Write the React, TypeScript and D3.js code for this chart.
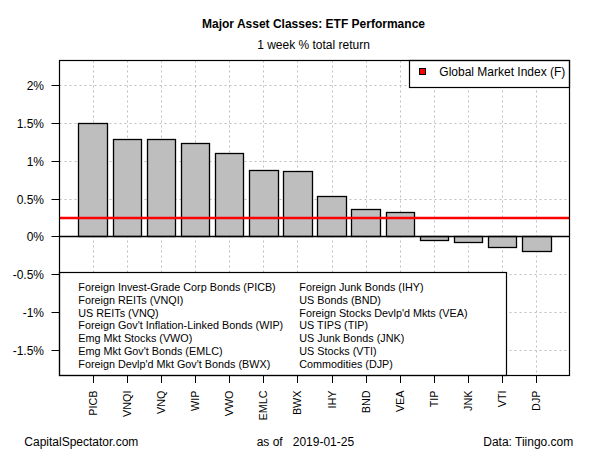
import React from "react";
import * as d3 from "d3";

const tickers = ["PICB", "VNQI", "VNQ", "WIP", "VWO", "EMLC", "BWX", "IHY", "BND", "VEA", "TIP", "JNK", "VTI", "DJP"];
const returns = [1.5, 1.29, 1.29, 1.24, 1.107, 0.882, 0.869, 0.538, 0.366, 0.33, -0.053, -0.07, -0.136, -0.19];
const gmiValue = 0.244;
const yTicks = [-1.5, -1, -0.5, 0, 0.5, 1, 1.5, 2];
const yTickLabels = ["-1.5%", "-1%", "-0.5%", "0%", "0.5%", "1%", "1.5%", "2%"];
const legendCol1 = [
  "Foreign Invest-Grade Corp Bonds (PICB)",
  "Foreign REITs (VNQI)",
  "US REITs (VNQ)",
  "Foreign Gov't Inflation-Linked Bonds (WIP)",
  "Emg Mkt Stocks (VWO)",
  "Emg Mkt Gov't Bonds (EMLC)",
  "Foreign Devlp'd Mkt Gov't Bonds (BWX)",
];
const legendCol2 = [
  "Foreign Junk Bonds (IHY)",
  "US Bonds (BND)",
  "Foreign Stocks Devlp'd Mkts (VEA)",
  "US TIPS (TIP)",
  "US Junk Bonds (JNK)",
  "US Stocks (VTI)",
  "Commodities (DJP)",
];

const FONT = "'Liberation Sans', Arial, sans-serif";

export default function App() {
  const L = 59.5, R = 569.5, T = 60.5, B = 375.5;
  const n = tickers.length;
  const x = d3.scaleLinear().domain([-0.464, 0.2 + n * 1.2 + 0.464]).range([L, R]);
  const y = d3.scaleLinear().domain([-1.839, 2.328]).range([B, T]);
  const centers = tickers.map((_, i) => x(0.2 + i * 1.2 + 0.5));
  const grid = "#bebebe";

  return (
    <svg width={600} height={450} style={{ position: "absolute", left: 0, top: 0, background: "#fff" }} fontFamily={FONT}>
      <rect x={0} y={0} width={600} height={450} fill="#fff" />
      {/* title */}
      <text x={313.5} y={27.5} textAnchor="middle" fontSize={12} fontWeight="bold">Major Asset Classes: ETF Performance</text>
      <text x={313.5} y={48.5} textAnchor="middle" fontSize={12}>1 week % total return</text>

      {/* grid */}
      {centers.map((c, i) => (
        <line key={"vg" + i} x1={Math.round(c) + 0.5} x2={Math.round(c) + 0.5} y1={T} y2={B} stroke={grid} strokeDasharray="2,3" />
      ))}
      {yTicks.map((t, i) => (
        <line key={"hg" + i} x1={L} x2={R} y1={Math.round(y(t)) + 0.5} y2={Math.round(y(t)) + 0.5} stroke={grid} strokeDasharray="2,3" />
      ))}

      {/* bars */}
      {returns.map((v, i) => {
        const x0 = Math.round(x(0.2 + i * 1.2)) + 0.5;
        const x1 = Math.round(x(0.2 + i * 1.2 + 1)) + 0.5;
        const y0 = Math.round(y(Math.max(0, v))) + 0.5;
        const y1 = Math.round(y(Math.min(0, v))) + 0.5;
        return <rect key={"b" + i} x={x0} y={y0} width={x1 - x0} height={Math.max(1, y1 - y0)} fill="#bebebe" stroke="#000" strokeWidth={1.3} />;
      })}

      {/* zero line */}
      <line x1={L} x2={R} y1={Math.round(y(0)) + 0.5} y2={Math.round(y(0)) + 0.5} stroke="#000" strokeWidth={1.3} />
      {/* GMI line */}
      <line x1={L} x2={R} y1={y(gmiValue)} y2={y(gmiValue)} stroke="#ff0000" strokeWidth={2.5} />

      {/* top legend */}
      <rect x={409.5} y={T} width={R - 409.5} height={27} fill="#fff" stroke="#000" strokeWidth={1.2} />
      <rect x={419.5} y={68.5} width={6} height={6} fill="#ff0000" stroke="#000" strokeWidth={1} />
      <text x={439.3} y={75.5} fontSize={12}>Global Market Index (F)</text>

      {/* bottom legend */}
      <rect x={L} y={272.5} width={506.5 - L} height={B - 272.5} fill="#fff" stroke="#000" strokeWidth={1.2} />
      {legendCol1.map((s, i) => (
        <text key={"l1" + i} x={78.3} y={291 + i * 12.8} fontSize={10.8}>{s}</text>
      ))}
      {legendCol2.map((s, i) => (
        <text key={"l2" + i} x={299.3} y={291 + i * 12.8} fontSize={10.8}>{s}</text>
      ))}

      {/* plot box */}
      <rect x={L} y={T} width={R - L} height={B - T} fill="none" stroke="#000" strokeWidth={1.2} />

      {/* y axis */}
      {yTicks.map((t, i) => {
        const yy = Math.round(y(t)) + 0.5;
        return (
          <g key={"yt" + i}>
            <line x1={L - 8} x2={L} y1={yy} y2={yy} stroke="#000" />
            <text x={44} y={yy + 4.2} textAnchor="end" fontSize={12}>{yTickLabels[i]}</text>
          </g>
        );
      })}

      {/* x axis */}
      {centers.map((c, i) => {
        const cx = Math.round(c) + 0.5;
        return (
          <g key={"xt" + i}>
            <line x1={cx} x2={cx} y1={B} y2={B + 7.5} stroke="#000" />
            <text transform={`translate(${cx + 3.8},${390.5}) rotate(-90)`} textAnchor="end" fontSize={10.8}>{tickers[i]}</text>
          </g>
        );
      })}

      {/* footer */}
      <text x={24.3} y={446} fontSize={12}>CapitalSpectator.com</text>
      <text x={256.7} y={446} fontSize={12} style={{ whiteSpace: "pre" }}>{"as of   2019-01-25"}</text>
      <text x={573.3} y={446} textAnchor="end" fontSize={12}>Data: Tiingo.com</text>
    </svg>
  );
}
